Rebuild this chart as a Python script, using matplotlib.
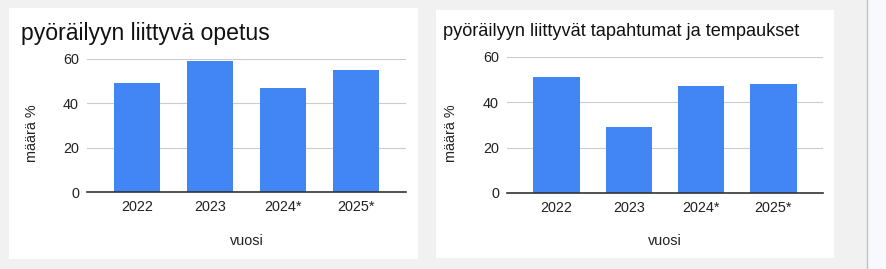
import matplotlib
matplotlib.use("Agg")
import matplotlib.pyplot as plt
from matplotlib.patches import Rectangle

plt.rcParams['font.family'] = ['Liberation Sans', 'DejaVu Sans']

categories = ["2022", "2023", "2024*", "2025*"]
values_opetus = [49, 59, 47, 55]
values_tapahtumat = [51, 29, 47, 48]
title_left = "pyöräilyyn liittyvä opetus"
title_right = "pyöräilyyn liittyvät tapahtumat ja tempaukset"
yticks = [0, 20, 40, 60]

W, H = 887, 269
fig = plt.figure(figsize=(W / 100, H / 100), dpi=100)
fig.patch.set_facecolor("#f1f1f1")

def px_rect(x0, y0, x1, y1, **kw):
    fig.patches.append(Rectangle((x0 / W, 1 - y1 / H), (x1 - x0) / W, (y1 - y0) / H,
                                 transform=fig.transFigure, figure=fig, zorder=-10, **kw))

# right panel region
px_rect(867, 0, 887, 269, facecolor="#f8f9fd", edgecolor="none")
fig.add_artist(plt.Line2D([867.5 / W, 867.5 / W], [0, 1], color="#c4c4c4", lw=1,
                          transform=fig.transFigure, zorder=-5))
# cards
px_rect(9, 8, 418, 259, facecolor="white", edgecolor="none")
px_rect(436, 10, 834, 258, facecolor="white", edgecolor="none")

BAR = "#4285f4"
FS = 10.4

def make_axes(x0, x1, ytop, y0, values, title, title_x, title_y, title_size, ylab_x):
    ax = fig.add_axes([x0 / W, 1 - y0 / H, (x1 - x0) / W, (y0 - ytop) / H])
    ax.set_facecolor("none")
    xs = range(len(categories))
    ax.bar(xs, values, width=0.64, color=BAR, zorder=3)
    ax.set_xlim(-0.685, len(categories) - 1 + 0.685)
    ax.set_ylim(0, 60)
    ax.set_yticks(yticks)
    ax.set_yticklabels([str(v) for v in yticks], fontsize=FS, color="#222222")
    ax.set_xticks(list(xs))
    ax.set_xticklabels(categories, fontsize=FS, color="#222222")
    ax.tick_params(length=0, pad=6)
    ax.tick_params(axis="y", pad=5.8)
    ax.grid(axis="y", color="#cccccc", lw=0.8, zorder=0)
    for s in ["top", "right", "left"]:
        ax.spines[s].set_visible(False)
    ax.spines["bottom"].set_color("#333333")
    ax.spines["bottom"].set_linewidth(1.2)
    ax.spines["bottom"].set_zorder(4)
    fig.text(title_x / W, 1 - title_y / H, title, fontsize=title_size, color="#111111",
             va="center", ha="left")
    fig.text(ylab_x / W, 1 - 133 / H, "määrä %", rotation=90, fontsize=FS,
             va="center", ha="center", color="#222222")
    fig.text((x0 + x1) / 2 / W, 1 - 241 / H, "vuosi", fontsize=FS,
             va="center", ha="center", color="#222222")
    return ax

make_axes(87, 406, 59, 192, values_opetus, title_left, 21, 33, 16.6, 32)
make_axes(507, 823, 57, 193, values_tapahtumat, title_right, 443, 32, 13.1, 451)

fig.savefig("out.png", dpi=100, facecolor=fig.get_facecolor())
